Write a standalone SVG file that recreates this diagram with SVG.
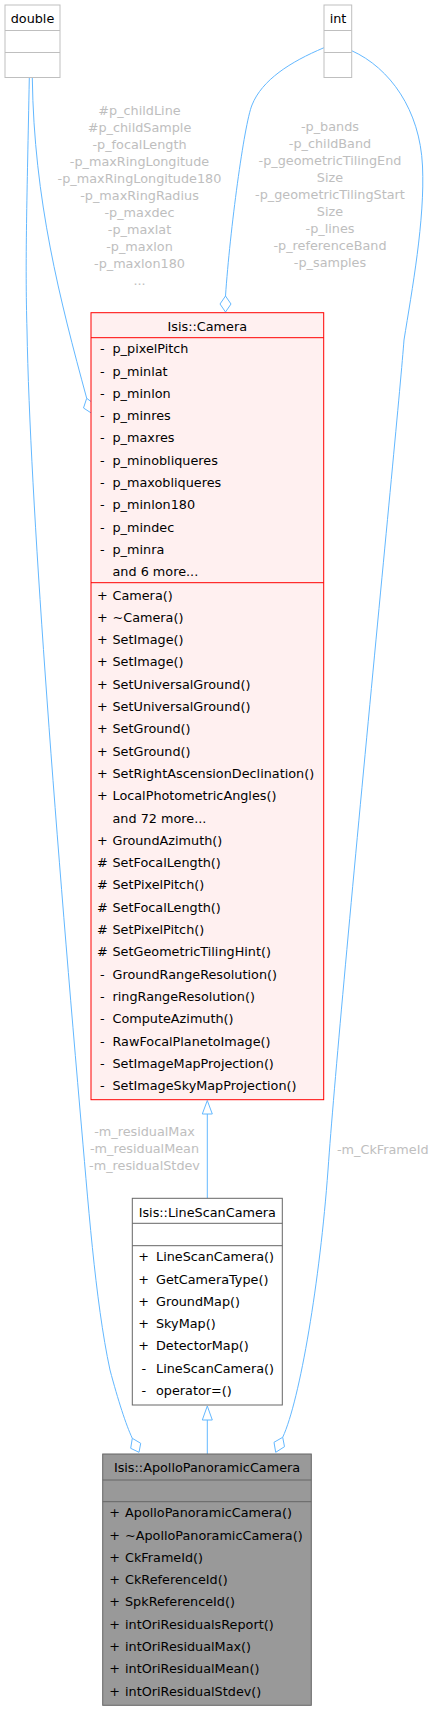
<svg xmlns="http://www.w3.org/2000/svg" width="437" height="1711" viewBox="0 0 437 1711">
<style>
text{font-family:"DejaVu Sans","Liberation Sans",sans-serif;font-size:12.8px;fill:#000}
.c{text-anchor:middle}
.lbl{fill:#bebebe}
.edge{fill:none;stroke:#63b8ff;stroke-width:1}
.head{fill:#fff;stroke:#63b8ff;stroke-width:1}
.gbox{fill:#fff;stroke:#bfbfbf}
.gline{stroke:#bfbfbf}
.rbox{fill:#fff0f0;stroke:#ff0000}
.rline{stroke:#ff0000}
.wbox{fill:#fff;stroke:#666}
.dbox{fill:#999;stroke:#666}
.dline{stroke:#666}
</style>
<rect width="437" height="1711" fill="#fff"/>
<g id="connectors">
<path class="edge" d="M29.3,78 C27,200 25,260 27,330 C30,500 55,820 80,1110 C88,1200 95,1300 110,1370 C118,1400 126,1425 132.3,1438.3"/>
<polygon class="head" points="132.3,1438.3 140.7,1443.3 139,1452.3 130.7,1448.3"/>
<path class="edge" d="M32.3,78 C34,200 60,300 86.7,398.3"/>
<polygon class="head" points="86.7,398.3 94.3,404 91.7,413.3 83.5,408"/>
<path class="edge" d="M324,47.7 C290,62 262,80 252,105 C244,125 230,230 225.5,296"/>
<polygon class="head" points="225.5,296 231,304 225.5,312 220,304"/>
<path class="edge" d="M351.7,50.7 C390,68 420,110 422.5,166 C425,220 412,290 404,340 C398,420 340,1000 328,1170 C320,1280 300,1400 282.7,1437.3"/>
<polygon class="head" points="282.7,1437.3 284.5,1446.7 275.7,1452.3 274,1442.3"/>
<path class="edge" d="M207.3,1198 L207.3,1114"/>
<polygon class="head" points="207.3,1100.5 212.3,1114 202.3,1114"/>
<path class="edge" d="M207.3,1454 L207.3,1420"/>
<polygon class="head" points="207.3,1406 212.3,1420 202.3,1420"/>
<g class="lbl">
<text class="c lbl" x="139.5" y="114.5">#p_childLine</text>
<text class="c lbl" x="139.5" y="131.5">#p_childSample</text>
<text class="c lbl" x="139.5" y="148.5">-p_focalLength</text>
<text class="c lbl" x="139.5" y="165.5">-p_maxRingLongitude</text>
<text class="c lbl" x="139.5" y="182.5">-p_maxRingLongitude180</text>
<text class="c lbl" x="139.5" y="199.5">-p_maxRingRadius</text>
<text class="c lbl" x="139.5" y="216.5">-p_maxdec</text>
<text class="c lbl" x="139.5" y="233.5">-p_maxlat</text>
<text class="c lbl" x="139.5" y="250.5">-p_maxlon</text>
<text class="c lbl" x="139.5" y="267.5">-p_maxlon180</text>
<text class="c lbl" x="139.5" y="284.5">...</text>
<text class="c lbl" x="330" y="131.2">-p_bands</text>
<text class="c lbl" x="330" y="148.2">-p_childBand</text>
<text class="c lbl" x="330" y="165.2">-p_geometricTilingEnd</text>
<text class="c lbl" x="330" y="182.2">Size</text>
<text class="c lbl" x="330" y="199.2">-p_geometricTilingStart</text>
<text class="c lbl" x="330" y="216.2">Size</text>
<text class="c lbl" x="330" y="233.2">-p_lines</text>
<text class="c lbl" x="330" y="250.2">-p_referenceBand</text>
<text class="c lbl" x="330" y="267.2">-p_samples</text>
<text class="c lbl" x="144.5" y="1136.2">-m_residualMax</text>
<text class="c lbl" x="144.5" y="1153.2">-m_residualMean</text>
<text class="c lbl" x="144.5" y="1170.2">-m_residualStdev</text>
<text class="lbl" x="337" y="1153.8">-m_CkFrameId</text>
</g>
</g>
<g id="node-double">
<rect class="gbox" x="5" y="5" width="55" height="72.5"/>
<line class="gline" x1="5" y1="30.5" x2="60" y2="30.5"/>
<line class="gline" x1="5" y1="52.5" x2="60" y2="52.5"/>
<text class="c" x="32.5" y="22.8">double</text>
</g>
<g id="node-int">
<rect class="gbox" x="324" y="5" width="27.7" height="72.5"/>
<line class="gline" x1="324" y1="30.5" x2="351.7" y2="30.5"/>
<line class="gline" x1="324" y1="52.5" x2="351.7" y2="52.5"/>
<text class="c" x="338" y="22.8">int</text>
</g>
<g id="node-camera">
<rect class="rbox" x="91" y="312.7" width="232.7" height="787"/>
<line class="rline" x1="91" y1="337.7" x2="323.7" y2="337.7"/>
<line class="rline" x1="91" y1="582.7" x2="323.7" y2="582.7"/>
<text class="c" x="207.3" y="330.5">Isis::Camera</text>
<text class="c" x="102.3" y="353.2">-</text>
<text class="c" x="102.3" y="375.5">-</text>
<text class="c" x="102.3" y="397.8">-</text>
<text class="c" x="102.3" y="420.1">-</text>
<text class="c" x="102.3" y="442.4">-</text>
<text class="c" x="102.3" y="464.7">-</text>
<text class="c" x="102.3" y="487">-</text>
<text class="c" x="102.3" y="509.3">-</text>
<text class="c" x="102.3" y="531.6">-</text>
<text class="c" x="102.3" y="553.9">-</text>
<text x="112.5" y="353.2">p_pixelPitch</text>
<text x="112.5" y="375.5">p_minlat</text>
<text x="112.5" y="397.8">p_minlon</text>
<text x="112.5" y="420.1">p_minres</text>
<text x="112.5" y="442.4">p_maxres</text>
<text x="112.5" y="464.7">p_minobliqueres</text>
<text x="112.5" y="487">p_maxobliqueres</text>
<text x="112.5" y="509.3">p_minlon180</text>
<text x="112.5" y="531.6">p_mindec</text>
<text x="112.5" y="553.9">p_minra</text>
<text x="112.5" y="576.2">and 6 more...</text>
<text class="c" x="102.3" y="599.5">+</text>
<text class="c" x="102.3" y="621.8">+</text>
<text class="c" x="102.3" y="644.1">+</text>
<text class="c" x="102.3" y="666.4">+</text>
<text class="c" x="102.3" y="688.7">+</text>
<text class="c" x="102.3" y="711">+</text>
<text class="c" x="102.3" y="733.3">+</text>
<text class="c" x="102.3" y="755.6">+</text>
<text class="c" x="102.3" y="777.9">+</text>
<text class="c" x="102.3" y="800.2">+</text>
<text class="c" x="102.3" y="844.8">+</text>
<text class="c" x="102.3" y="867.1">#</text>
<text class="c" x="102.3" y="889.4">#</text>
<text class="c" x="102.3" y="911.7">#</text>
<text class="c" x="102.3" y="934">#</text>
<text class="c" x="102.3" y="956.3">#</text>
<text class="c" x="102.3" y="978.6">-</text>
<text class="c" x="102.3" y="1000.9">-</text>
<text class="c" x="102.3" y="1023.2">-</text>
<text class="c" x="102.3" y="1045.5">-</text>
<text class="c" x="102.3" y="1067.8">-</text>
<text class="c" x="102.3" y="1090.1">-</text>
<text x="112.5" y="599.5">Camera()</text>
<text x="112.5" y="621.8">~Camera()</text>
<text x="112.5" y="644.1">SetImage()</text>
<text x="112.5" y="666.4">SetImage()</text>
<text x="112.5" y="688.7">SetUniversalGround()</text>
<text x="112.5" y="711">SetUniversalGround()</text>
<text x="112.5" y="733.3">SetGround()</text>
<text x="112.5" y="755.6">SetGround()</text>
<text x="112.5" y="777.9">SetRightAscensionDeclination()</text>
<text x="112.5" y="800.2">LocalPhotometricAngles()</text>
<text x="112.5" y="822.5">and 72 more...</text>
<text x="112.5" y="844.8">GroundAzimuth()</text>
<text x="112.5" y="867.1">SetFocalLength()</text>
<text x="112.5" y="889.4">SetPixelPitch()</text>
<text x="112.5" y="911.7">SetFocalLength()</text>
<text x="112.5" y="934">SetPixelPitch()</text>
<text x="112.5" y="956.3">SetGeometricTilingHint()</text>
<text x="112.5" y="978.6">GroundRangeResolution()</text>
<text x="112.5" y="1000.9">ringRangeResolution()</text>
<text x="112.5" y="1023.2">ComputeAzimuth()</text>
<text x="112.5" y="1045.5">RawFocalPlanetoImage()</text>
<text x="112.5" y="1067.8">SetImageMapProjection()</text>
<text x="112.5" y="1090.1">SetImageSkyMapProjection()</text>
</g>
<g id="node-linescancamera">
<rect class="wbox" x="132.3" y="1198.3" width="150" height="206.7"/>
<line class="dline" x1="132.3" y1="1223.3" x2="282.3" y2="1223.3"/>
<line class="dline" x1="132.3" y1="1245.7" x2="282.3" y2="1245.7"/>
<text class="c" x="207.3" y="1216.8">Isis::LineScanCamera</text>
<text class="c" x="143.7" y="1261.2">+</text>
<text class="c" x="143.7" y="1283.5">+</text>
<text class="c" x="143.7" y="1305.8">+</text>
<text class="c" x="143.7" y="1328.1">+</text>
<text class="c" x="143.7" y="1350.4">+</text>
<text class="c" x="143.7" y="1372.7">-</text>
<text class="c" x="143.7" y="1395">-</text>
<text x="156" y="1261.2">LineScanCamera()</text>
<text x="156" y="1283.5">GetCameraType()</text>
<text x="156" y="1305.8">GroundMap()</text>
<text x="156" y="1328.1">SkyMap()</text>
<text x="156" y="1350.4">DetectorMap()</text>
<text x="156" y="1372.7">LineScanCamera()</text>
<text x="156" y="1395">operator=()</text>
</g>
<g id="node-apollopanoramiccamera">
<rect class="dbox" x="102.7" y="1454" width="208.6" height="251.3"/>
<line class="dline" x1="102.7" y1="1480" x2="311.3" y2="1480"/>
<line class="dline" x1="102.7" y1="1501.7" x2="311.3" y2="1501.7"/>
<text class="c" x="207" y="1472.2">Isis::ApolloPanoramicCamera</text>
<text class="c" x="114.5" y="1517.2">+</text>
<text class="c" x="114.5" y="1539.5">+</text>
<text class="c" x="114.5" y="1561.8">+</text>
<text class="c" x="114.5" y="1584.1">+</text>
<text class="c" x="114.5" y="1606.4">+</text>
<text class="c" x="114.5" y="1628.7">+</text>
<text class="c" x="114.5" y="1651">+</text>
<text class="c" x="114.5" y="1673.3">+</text>
<text class="c" x="114.5" y="1695.6">+</text>
<text x="125" y="1517.2">ApolloPanoramicCamera()</text>
<text x="125" y="1539.5">~ApolloPanoramicCamera()</text>
<text x="125" y="1561.8">CkFrameId()</text>
<text x="125" y="1584.1">CkReferenceId()</text>
<text x="125" y="1606.4">SpkReferenceId()</text>
<text x="125" y="1628.7">intOriResidualsReport()</text>
<text x="125" y="1651">intOriResidualMax()</text>
<text x="125" y="1673.3">intOriResidualMean()</text>
<text x="125" y="1695.6">intOriResidualStdev()</text>
</g>
</svg>
